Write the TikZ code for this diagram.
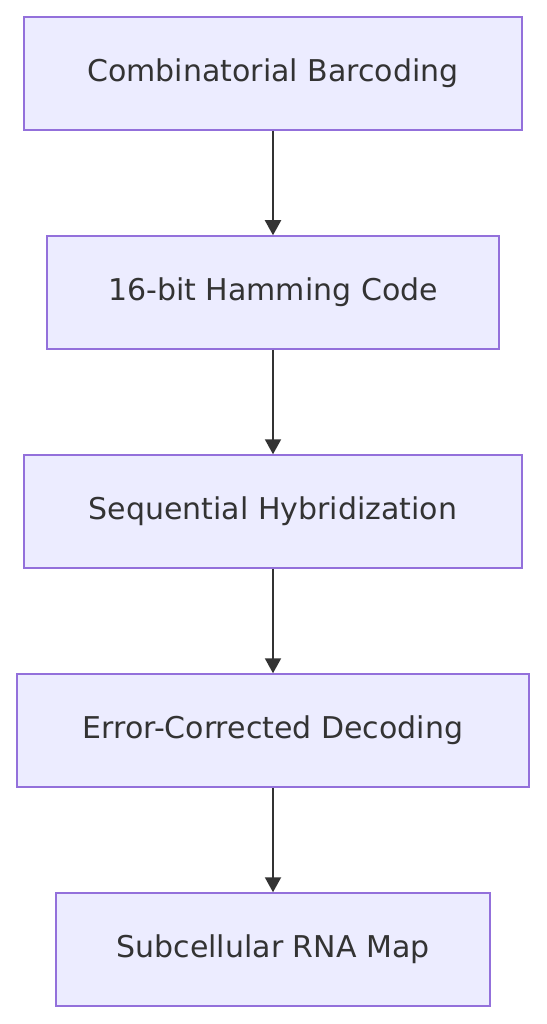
\documentclass[tikz,border=0pt]{standalone}
\usepackage{fontspec}
\setmainfont{DejaVu Sans}
\usetikzlibrary{arrows.meta}
\definecolor{boxfill}{HTML}{ECECFF}
\definecolor{boxline}{HTML}{9370DB}
\definecolor{ink}{HTML}{333333}
\begin{document}
\begin{tikzpicture}[x=1pt,y=-1pt,
  stepbox/.style={draw=boxline,fill=boxfill,line width=1.5pt,minimum height=113pt,
    inner sep=0pt,text=ink,font=\fontsize{30}{34}\selectfont},
  flow/.style={draw=ink,line width=2pt,-{Triangle[width=16pt,length=15pt]}}]
\useasboundingbox (0,0) rectangle (546,1024);
\fill[white] (0,0) rectangle (546,1024);
\node[stepbox,minimum width=498pt] (a) at (273,73.5) {Combinatorial Barcoding};
\node[stepbox,minimum width=452pt] (b) at (273,292.5) {16-bit Hamming Code};
\node[stepbox,minimum width=498pt] (c) at (273,511.5) {Sequential Hybridization};
\node[stepbox,minimum width=512pt] (d) at (273,730.5) {Error-Corrected Decoding};
\node[stepbox,minimum width=434pt] (e) at (273,949.5) {Subcellular RNA Map};
\draw[flow] (a) -- (b);
\draw[flow] (b) -- (c);
\draw[flow] (c) -- (d);
\draw[flow] (d) -- (e);
\end{tikzpicture}
\end{document}
